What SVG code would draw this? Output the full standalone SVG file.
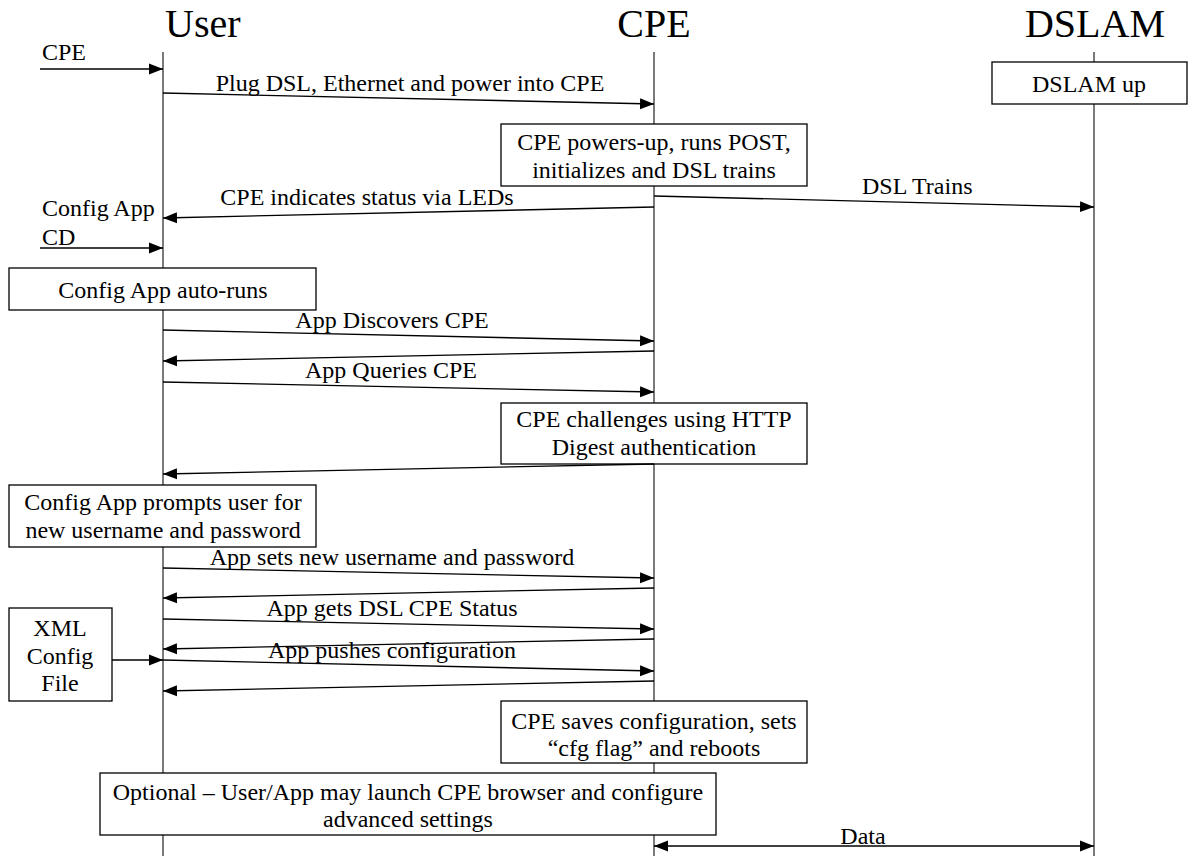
<svg xmlns="http://www.w3.org/2000/svg" width="1188" height="856" viewBox="0 0 1188 856">
<style>
text{font-family:"Liberation Serif","Times New Roman",serif;fill:#000}
.t{font-size:24px}
.h{font-size:40px}
.c{text-anchor:middle}
.life{stroke:#333;stroke-width:1.3;fill:none}
.box{fill:#fff;stroke:#000;stroke-width:1.3}
.msg{stroke:#000;stroke-width:1.3;fill:none;marker-end:url(#ah)}
</style>
<defs>
<marker id="ah" markerUnits="userSpaceOnUse" markerWidth="14" markerHeight="12" refX="14" refY="6" orient="auto-start-reverse" viewBox="0 0 14 12">
<path d="M0,0.5 L14,6 L0,11.5 z" fill="#000"/>
</marker>
</defs>
<rect width="1188" height="856" fill="#fff"/>
<g id="user">
<text class="h" x="165" y="37">User</text>
<line class="life" x1="163" y1="52" x2="163" y2="856"/>
</g>
<g id="cpe">
<text class="h c" x="654" y="37">CPE</text>
<line class="life" x1="654" y1="52" x2="654" y2="856"/>
</g>
<g id="dslam">
<text class="h c" x="1095" y="37">DSLAM</text>
<line class="life" x1="1094" y1="52" x2="1094" y2="856"/>
</g>
<g id="dslam-up">
<rect class="box" x="992" y="62" width="195" height="42"/>
<text class="t c" x="1089" y="92">DSLAM up</text>
</g>
<g id="cpe-powers">
<rect class="box" x="501" y="124" width="306" height="62"/>
<text class="t c" x="654" y="150">CPE powers-up, runs POST,</text>
<text class="t c" x="654" y="178">initializes and DSL trains</text>
</g>
<g id="auto-runs">
<rect class="box" x="9" y="268" width="307" height="42"/>
<text class="t c" x="163" y="298">Config App auto-runs</text>
</g>
<g id="challenge">
<rect class="box" x="501" y="403" width="306" height="61"/>
<text class="t c" x="654" y="427">CPE challenges using HTTP</text>
<text class="t c" x="654" y="455">Digest authentication</text>
</g>
<g id="prompts">
<rect class="box" x="9" y="485" width="307" height="62"/>
<text class="t c" x="163" y="510">Config App prompts user for</text>
<text class="t c" x="163" y="538">new username and password</text>
</g>
<g id="xml">
<rect class="box" x="9" y="608" width="103" height="93"/>
<text class="t c" x="60" y="636">XML</text>
<text class="t c" x="60" y="664">Config</text>
<text class="t c" x="60" y="691">File</text>
</g>
<g id="saves">
<rect class="box" x="501" y="701" width="306" height="62"/>
<text class="t c" x="654" y="729">CPE saves configuration, sets</text>
<text class="t c" x="654" y="756">“cfg flag” and reboots</text>
</g>
<g id="optional">
<rect class="box" x="100" y="773" width="616" height="62"/>
<text class="t c" x="408" y="800">Optional – User/App may launch CPE browser and configure</text>
<text class="t c" x="408" y="827">advanced settings</text>
</g>
<g id="connectors">
<line class="msg" x1="40" y1="69" x2="163" y2="69"/>
<text class="t" x="42" y="60">CPE</text>
<line class="msg" x1="163" y1="93" x2="654" y2="104"/>
<text class="t c" x="410" y="91">Plug DSL, Ethernet and power into CPE</text>
<line class="msg" x1="654" y1="207" x2="163" y2="218"/>
<text class="t c" x="367" y="205">CPE indicates status via LEDs</text>
<line class="msg" x1="654" y1="196" x2="1094" y2="207"/>
<text class="t" x="862" y="194">DSL Trains</text>
<text class="t" x="42" y="216">Config App</text>
<text class="t" x="42" y="245">CD</text>
<line class="msg" x1="40" y1="248" x2="163" y2="248"/>
<line class="msg" x1="163" y1="330" x2="654" y2="341"/>
<text class="t c" x="392" y="328">App Discovers CPE</text>
<line class="msg" x1="654" y1="351" x2="163" y2="361"/>
<line class="msg" x1="163" y1="382" x2="654" y2="392"/>
<text class="t c" x="391" y="378">App Queries CPE</text>
<line class="msg" x1="654" y1="464" x2="163" y2="474"/>
<line class="msg" x1="163" y1="568" x2="654" y2="578"/>
<text class="t c" x="392" y="565">App sets new username and password</text>
<line class="msg" x1="654" y1="588" x2="163" y2="598"/>
<line class="msg" x1="163" y1="619" x2="654" y2="629"/>
<text class="t c" x="392" y="616">App gets DSL CPE Status</text>
<line class="msg" x1="654" y1="639" x2="163" y2="649"/>
<line class="msg" x1="112" y1="660" x2="163" y2="660"/>
<line class="msg" x1="163" y1="660" x2="654" y2="671"/>
<text class="t c" x="392" y="658">App pushes configuration</text>
<line class="msg" x1="654" y1="681" x2="163" y2="691"/>
<line class="msg" x1="654" y1="846" x2="1094" y2="846" style="marker-start:url(#ah)"/>
<text class="t c" x="863" y="844">Data</text>
</g>
</svg>
